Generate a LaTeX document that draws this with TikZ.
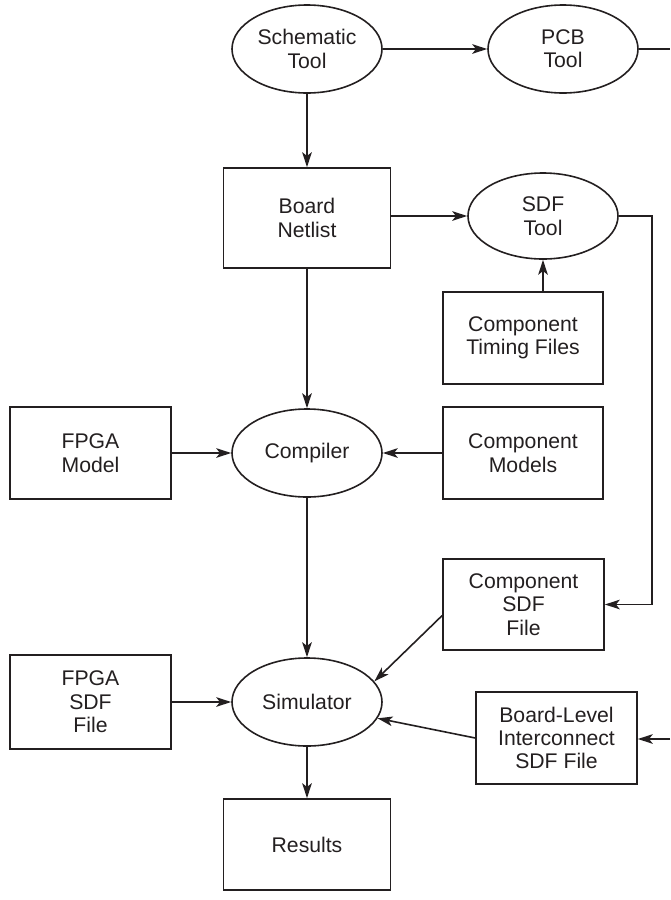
\documentclass[tikz,border=0pt]{standalone}
\usepackage{fontspec}
\setmainfont{Liberation Sans}
\usetikzlibrary{shapes.geometric,arrows.meta}
\definecolor{ink}{HTML}{231F20}
\begin{document}
\begin{tikzpicture}[x=0.5pt,y=-0.5pt,
  font=\fontsize{10.6}{11.7}\selectfont,
  box/.style={draw=ink, line width=0.8pt, rectangle, align=center, inner sep=0pt, text=ink},
  oval/.style={draw=ink, line width=0.8pt, ellipse, align=center, inner sep=0pt, text=ink, minimum width=75pt, minimum height=44pt},
  conn/.style={draw=ink, line width=0.8pt, -{Stealth[length=7.5pt,width=4.8pt,inset=1.9pt]}},
  plainline/.style={draw=ink, line width=0.8pt}]
\useasboundingbox (0,0) rectangle (670,900);
% nodes
\node[oval] (sch) at (307,49) {Schematic\\Tool};
\node[oval] (pcb) at (563,49) {PCB\\Tool};
\node[box, minimum width=83.5pt, minimum height=50pt] (net) at (307,218) {Board\\Netlist};
\node[oval, minimum height=43pt] (sdft) at (543,216) {SDF\\Tool};
\node[box, minimum width=80pt, minimum height=46pt] (ctf) at (523,338) {Component\\Timing Files};
\node[box, minimum width=80.5pt, minimum height=46pt] (fpga) at (90.5,453) {FPGA\\Model};
\node[oval] (comp) at (307,453) {Compiler};
\node[box, minimum width=80pt, minimum height=46pt] (cm) at (523,453) {Component\\Models};
\node[box, minimum width=80.5pt, minimum height=45.5pt] (csdf) at (523.5,604.5) {Component\\SDF\\File};
\node[box, minimum width=80.5pt, minimum height=47pt] (fsdf) at (90.5,702) {FPGA\\SDF\\File};
\node[oval] (sim) at (307,702) {Simulator};
\node[box, minimum width=80.5pt, minimum height=46pt] (bl) at (556.5,738) {Board-Level\\Interconnect\\SDF File};
\node[box, minimum width=83.5pt, minimum height=45.5pt] (res) at (307,844.5) {Results};
% free ends
\coordinate (pcbout) at (670,49);
\coordinate (sdfcorner) at (652,216);
\coordinate (blin) at (670,739);
% connectors
\draw[conn] (sch.east) -- (pcb.west);
\draw[plainline] (pcb.east) -- (pcbout);
\draw[conn] (sch.south) -- (sch.south |- net.north);
\draw[conn] (net.east |- sdft.west) -- (sdft.west);
\draw[conn] (sdft.east) -- (sdfcorner) |- (csdf.east);
\draw[conn] (ctf.north -| sdft.south) -- (sdft.south);
\draw[conn] (net.south) -- (comp.north);
\draw[conn] (fpga.east) -- (fpga.east -| comp.west);
\draw[conn] (cm.west) -- (cm.west -| comp.east);
\draw[conn] (comp.south) -- (sim.north);
\draw[conn] (fsdf.east) -- (sim.west);
\draw[conn] ([yshift=-5.5pt]csdf.west) -- (sim.17);
\draw[conn] (bl.west) -- (sim.-13);
\draw[conn] (blin) -- (blin -| bl.east);
\draw[conn] (sim.south) -- (res.north);
\end{tikzpicture}
\end{document}
